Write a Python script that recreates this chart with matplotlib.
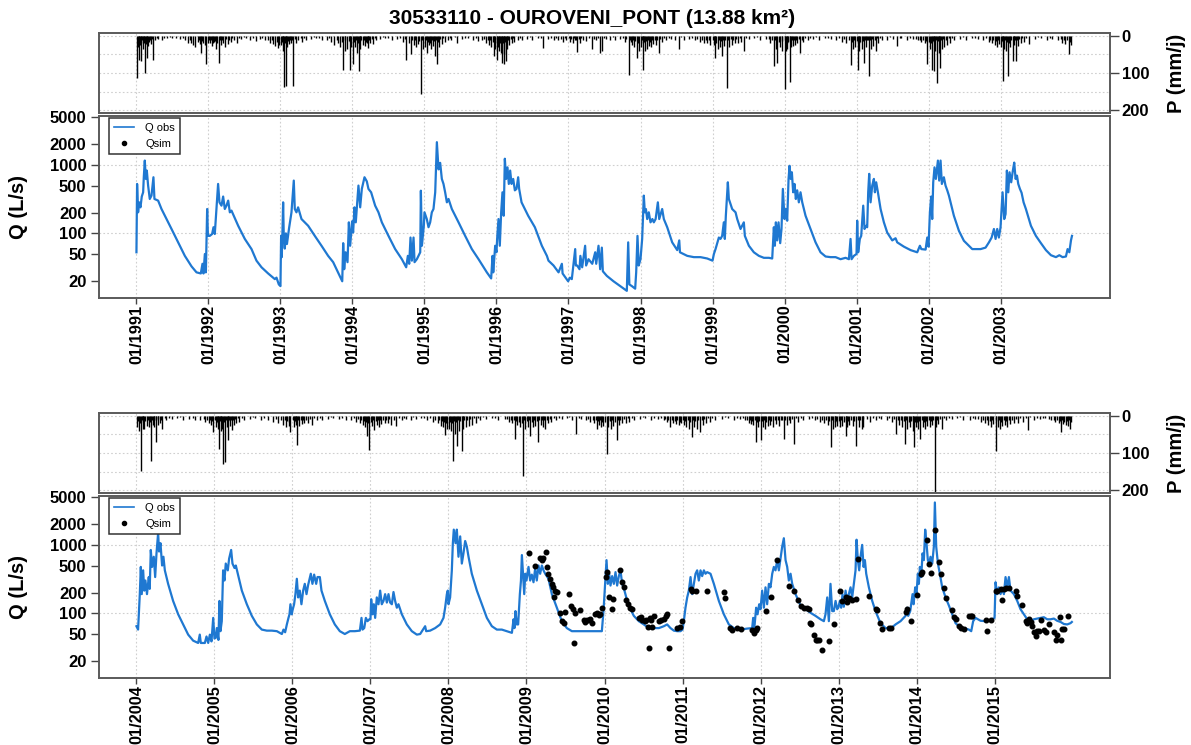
import matplotlib.pyplot as plt
from matplotlib.lines import Line2D
from matplotlib.ticker import NullLocator

plt.rcParams['font.family'] = ['Liberation Sans', 'DejaVu Sans']

titre = '30533110 - OUROVENI_PONT (13.88 km²)'
bleu = '#1f78d1'

# Débit observé 1991-2003 (temps en année décimale, Q en L/s)
q1_t = [
    1991.0, 1991.009, 1991.023, 1991.037, 1991.056, 1991.074, 1991.093, 1991.102, 1991.116, 1991.130, 1991.144, 1991.162, 1991.185, 1991.209, 1991.236, 1991.250, 1991.301, 1991.348, 1991.417, 1991.487, 1991.579, 1991.672, 1991.765, 1991.834, 1991.894, 1991.917, 1991.931, 1991.950, 1991.964, 1991.982, 1991.992,
    1992.0, 1992.019, 1992.051, 1992.070, 1992.088, 1992.134, 1992.153, 1992.181, 1992.204, 1992.227, 1992.250, 1992.274, 1992.297, 1992.320, 1992.413, 1992.505, 1992.598, 1992.667, 1992.737, 1992.829, 1992.922, 1992.945, 1992.977,
    1993.0, 1993.009, 1993.018, 1993.028, 1993.037, 1993.046, 1993.060, 1993.075, 1993.090, 1993.120, 1993.153, 1993.185, 1993.199, 1993.222, 1993.245, 1993.292, 1993.385, 1993.477, 1993.570, 1993.662, 1993.732, 1993.858, 1993.871, 1993.885, 1993.904, 1993.931, 1993.950, 1993.968, 1993.995,
    1994.009, 1994.028, 1994.046, 1994.083, 1994.107, 1994.130, 1994.167, 1994.199, 1994.222, 1994.259, 1994.315, 1994.361, 1994.408, 1994.500, 1994.593, 1994.686, 1994.746, 1994.769, 1994.788, 1994.806, 1994.825, 1994.848, 1994.862, 1994.894, 1994.941, 1994.950, 1994.964, 1994.991,
    1995.0, 1995.032, 1995.056, 1995.079, 1995.102, 1995.125, 1995.149, 1995.172, 1995.195, 1995.218, 1995.241, 1995.264, 1995.287, 1995.311, 1995.334, 1995.380, 1995.473, 1995.565, 1995.658, 1995.751, 1995.866, 1995.926, 1995.945, 1995.955, 1995.982,
    1996.0, 1996.009, 1996.028, 1996.046, 1996.065, 1996.083, 1996.100, 1996.116, 1996.134, 1996.153, 1996.171, 1996.190, 1996.209, 1996.232, 1996.255, 1996.278, 1996.301, 1996.315, 1996.348, 1996.440, 1996.533, 1996.630, 1996.700, 1996.722, 1996.792, 1996.862, 1996.908, 1996.918, 1996.995,
    1997.020, 1997.046, 1997.093, 1997.102, 1997.120, 1997.153, 1997.165, 1997.190, 1997.231, 1997.245, 1997.278, 1997.330, 1997.371, 1997.385, 1997.417, 1997.440, 1997.463, 1997.477, 1997.532, 1997.625, 1997.718, 1997.810, 1997.829, 1997.845, 1997.880, 1997.926, 1997.940, 1997.958, 1997.975,
    1998.0, 1998.023, 1998.037, 1998.046, 1998.060, 1998.075, 1998.093, 1998.115, 1998.139, 1998.165, 1998.185, 1998.210, 1998.241, 1998.260, 1998.301, 1998.324, 1998.371, 1998.440, 1998.510, 1998.538, 1998.548, 1998.649, 1998.741, 1998.834, 1998.927,
    1999.0, 1999.019, 1999.042, 1999.065, 1999.088, 1999.111, 1999.134, 1999.157, 1999.171, 1999.185, 1999.204, 1999.213, 1999.227, 1999.250, 1999.273, 1999.320, 1999.343, 1999.389, 1999.435, 1999.449, 1999.505, 1999.574, 1999.644, 1999.713, 1999.783, 1999.829, 1999.852, 1999.866, 1999.880, 1999.898, 1999.917, 1999.940, 1999.958, 1999.977,
    2000.0, 2000.019, 2000.037, 2000.056, 2000.070, 2000.086, 2000.102, 2000.120, 2000.139, 2000.157, 2000.176, 2000.199, 2000.222, 2000.246, 2000.292, 2000.361, 2000.431, 2000.500, 2000.570, 2000.639, 2000.709, 2000.778, 2000.848, 2000.894, 2000.917, 2000.931, 2000.963,
    2001.0, 2001.009, 2001.023, 2001.046, 2001.065, 2001.093, 2001.111, 2001.134, 2001.148, 2001.162, 2001.176, 2001.195, 2001.218, 2001.241, 2001.255, 2001.273, 2001.297, 2001.334, 2001.380, 2001.426, 2001.496, 2001.542, 2001.565, 2001.658, 2001.751, 2001.843, 2001.880, 2001.900, 2001.959, 2001.982,
    2002.0, 2002.019, 2002.037, 2002.051, 2002.065, 2002.083, 2002.102, 2002.130, 2002.148, 2002.167, 2002.185, 2002.213, 2002.236, 2002.260, 2002.283, 2002.306, 2002.352, 2002.422, 2002.491, 2002.561, 2002.607, 2002.653, 2002.723, 2002.792, 2002.839, 2002.876, 2002.908, 2002.931, 2002.954, 2002.977,
    2003.0, 2003.028, 2003.051, 2003.070, 2003.088, 2003.107, 2003.125, 2003.148, 2003.171, 2003.190, 2003.209, 2003.228, 2003.246, 2003.269, 2003.292, 2003.320, 2003.352, 2003.422, 2003.491, 2003.561, 2003.630, 2003.700, 2003.769, 2003.816, 2003.862, 2003.908, 2003.931, 2003.955, 2003.978, 2003.992,
]
q1_v = [
    53, 527, 203, 284, 240, 345, 398, 660, 1156, 624, 826, 499, 318, 356, 660, 318, 301, 227, 162, 116, 74, 47, 33, 27, 26, 36, 26, 50, 27, 227, 98,
    92, 92, 98, 123, 98, 527, 284, 254, 345, 227, 254, 301, 203, 215, 129, 83, 59, 40, 32, 26, 21.5, 22.6, 18,
    17, 92, 45, 110, 284, 90, 60, 100, 70, 120, 203, 590, 227, 203, 240, 162, 129, 92, 66, 47, 38, 20, 72, 30, 53, 38, 145, 66, 150,
    103, 240, 145, 499, 240, 446, 660, 575, 446, 398, 254, 203, 145, 92, 59, 42, 32, 47, 36, 87, 40, 87, 38, 42, 53, 420, 66, 129,
    203, 162, 123, 145, 203, 227, 398, 2146, 860, 1070, 624, 527, 398, 284, 318, 227, 145, 92, 59, 42, 27, 22, 47, 27, 66,
    53, 83, 162, 66, 203, 398, 181, 1230, 624, 920, 527, 826, 527, 624, 425, 446, 660, 446, 284, 181, 123, 66, 47, 40, 34, 27, 36, 26, 20,
    22.6, 21.5, 59, 34, 34, 30, 47, 32, 66, 34, 42, 36, 53, 36, 66, 30, 62, 28, 24, 20, 17, 14.5, 74, 18, 17, 15.6, 27, 92, 34,
    42, 83, 203, 356, 203, 227, 162, 203, 145, 162, 145, 162, 284, 162, 227, 162, 123, 74, 57, 79, 53, 47, 45, 45, 43,
    40, 50, 59, 72, 87, 83, 92, 145, 83, 181, 398, 557, 318, 268, 227, 203, 162, 116, 145, 92, 66, 53, 47, 44, 44, 43, 123, 66, 145, 79, 145, 72, 116, 446,
    162, 227, 153, 624, 970, 624, 780, 398, 527, 318, 425, 284, 398, 284, 181, 116, 74, 53, 46, 45, 45, 42, 44, 42, 83, 42, 47,
    50, 153, 53, 83, 92, 254, 116, 129, 123, 398, 740, 284, 499, 624, 398, 557, 398, 227, 145, 103, 79, 85, 74, 64, 57, 53, 66, 59, 58, 87,
    64, 203, 345, 162, 557, 920, 624, 1156, 590, 1156, 527, 660, 499, 425, 356, 284, 181, 109, 78, 66, 59, 59, 59, 62, 74, 87, 116, 83, 116, 87,
    123, 398, 162, 192, 826, 398, 780, 557, 826, 1080, 624, 698, 527, 446, 392, 284, 227, 129, 92, 72, 57, 48, 45, 48, 45, 46, 59, 53, 79, 92,
]

# Débit observé 2004-2015
q2_t = [
    2004.0, 2004.021, 2004.034, 2004.043, 2004.056, 2004.068, 2004.086, 2004.100, 2004.115, 2004.135, 2004.158, 2004.170, 2004.184, 2004.200, 2004.222, 2004.240, 2004.257, 2004.278, 2004.290, 2004.308, 2004.329, 2004.346, 2004.364, 2004.406, 2004.470, 2004.535, 2004.599, 2004.663, 2004.727, 2004.791, 2004.812, 2004.825, 2004.877, 2004.898, 2004.920, 2004.941, 2004.962, 2004.984,
    2005.0, 2005.017, 2005.030, 2005.051, 2005.064, 2005.077, 2005.094, 2005.111, 2005.128, 2005.145, 2005.171, 2005.188, 2005.214, 2005.231, 2005.257, 2005.274, 2005.299, 2005.351, 2005.415, 2005.479, 2005.543, 2005.607, 2005.671, 2005.736, 2005.800, 2005.864, 2005.885, 2005.906, 2005.928, 2005.949, 2005.962, 2005.974, 2005.991,
    2006.0, 2006.021, 2006.038, 2006.056, 2006.073, 2006.094, 2006.115, 2006.137, 2006.158, 2006.180, 2006.201, 2006.235, 2006.256, 2006.278, 2006.304, 2006.321, 2006.351, 2006.372, 2006.415, 2006.479, 2006.543, 2006.607, 2006.671, 2006.736, 2006.800, 2006.864, 2006.885, 2006.898, 2006.920, 2006.941, 2006.962, 2006.985,
    2007.0, 2007.009, 2007.026, 2007.043, 2007.060, 2007.081, 2007.103, 2007.124, 2007.145, 2007.167, 2007.188, 2007.210, 2007.231, 2007.252, 2007.274, 2007.295, 2007.316, 2007.338, 2007.359, 2007.402, 2007.466, 2007.530, 2007.594, 2007.637, 2007.701, 2007.714, 2007.765, 2007.829, 2007.893, 2007.936, 2007.957, 2007.979, 2007.991,
    2008.0, 2008.021, 2008.043, 2008.056, 2008.068, 2008.090, 2008.107, 2008.128, 2008.150, 2008.171, 2008.192, 2008.214, 2008.235, 2008.257, 2008.299, 2008.364, 2008.428, 2008.492, 2008.556, 2008.620, 2008.684, 2008.748, 2008.813, 2008.834, 2008.846, 2008.859, 2008.876, 2008.893, 2008.915, 2008.929, 2008.941, 2008.955, 2008.971, 2008.984,
    2009.0, 2009.026, 2009.047, 2009.068, 2009.090, 2009.111, 2009.132, 2009.154, 2009.175, 2009.197, 2009.218, 2009.240, 2009.282, 2009.325, 2009.389, 2009.453, 2009.517, 2009.582, 2009.646, 2009.710, 2009.774, 2009.838, 2009.902, 2009.966, 2009.987,
    2010.0, 2010.026, 2010.043, 2010.060, 2010.077, 2010.098, 2010.120, 2010.141, 2010.162, 2010.184, 2010.205, 2010.226, 2010.256, 2010.291, 2010.333, 2010.376, 2010.440, 2010.504, 2010.568, 2010.632, 2010.697, 2010.761, 2010.803, 2010.846, 2010.889, 2010.932, 2010.974,
    2011.0, 2011.017, 2011.038, 2011.060, 2011.081, 2011.103, 2011.124, 2011.145, 2011.167, 2011.188, 2011.209, 2011.231, 2011.252, 2011.274, 2011.295, 2011.316, 2011.359, 2011.402, 2011.466, 2011.530, 2011.594, 2011.658, 2011.744, 2011.829, 2011.893, 2011.906, 2011.919, 2011.944, 2011.962, 2011.983,
    2012.0, 2012.021, 2012.043, 2012.064, 2012.085, 2012.107, 2012.128, 2012.150, 2012.171, 2012.192, 2012.214, 2012.235, 2012.256, 2012.278, 2012.299, 2012.321, 2012.342, 2012.363, 2012.385, 2012.406, 2012.449, 2012.513, 2012.577, 2012.641, 2012.705, 2012.769, 2012.812, 2012.833, 2012.855, 2012.876, 2012.897, 2012.919, 2012.940, 2012.962, 2012.983,
    2013.0, 2013.017, 2013.034, 2013.051, 2013.068, 2013.090, 2013.111, 2013.132, 2013.154, 2013.175, 2013.197, 2013.218, 2013.231, 2013.248, 2013.265, 2013.282, 2013.303, 2013.321, 2013.338, 2013.355, 2013.389, 2013.432, 2013.474, 2013.538, 2013.603, 2013.667, 2013.731, 2013.795, 2013.859, 2013.880, 2013.893, 2013.919, 2013.949, 2013.962, 2013.983,
    2014.0, 2014.017, 2014.030, 2014.043, 2014.060, 2014.077, 2014.094, 2014.111, 2014.128, 2014.145, 2014.162, 2014.179, 2014.201, 2014.222, 2014.235, 2014.252, 2014.274, 2014.299, 2014.329, 2014.372, 2014.415, 2014.457, 2014.500, 2014.543, 2014.585, 2014.628, 2014.671, 2014.701, 2014.726, 2014.756, 2014.821, 2014.885, 2014.927, 2014.970,
    2015.0, 2015.013, 2015.034, 2015.056, 2015.077, 2015.098, 2015.120, 2015.141, 2015.162, 2015.184, 2015.205, 2015.248, 2015.291, 2015.333, 2015.376, 2015.419, 2015.462, 2015.504, 2015.547, 2015.590, 2015.632, 2015.675, 2015.718, 2015.761, 2015.803, 2015.846, 2015.889, 2015.932, 2015.974, 2015.991,
]
q2_v = [
    65, 58, 121, 191, 477, 191, 425, 215, 302, 191, 339, 228, 843, 477, 671, 339, 752, 1490, 800, 1060, 500, 671, 425, 270, 152, 97, 69, 49, 40, 37, 49, 37, 37, 46, 37, 49, 39, 86,
    43, 44, 61, 41, 152, 55, 77, 425, 302, 534, 425, 630, 843, 534, 460, 500, 379, 215, 136, 92, 69, 58, 56, 56, 55, 50, 58, 53, 69, 86, 97, 136, 97,
    110, 136, 191, 320, 171, 215, 136, 215, 270, 191, 260, 379, 270, 368, 270, 339, 339, 215, 152, 97, 69, 55, 50, 55, 55, 56, 86, 58, 61, 86, 77, 82,
    82, 161, 97, 136, 86, 171, 136, 215, 136, 152, 191, 144, 191, 144, 136, 205, 152, 121, 136, 97, 69, 55, 49, 50, 65, 55, 56, 61, 69, 86, 121, 191, 215,
    136, 171, 425, 1060, 1670, 1060, 1670, 671, 1330, 534, 752, 1140, 945, 671, 379, 215, 136, 86, 65, 58, 58, 55, 52, 82, 61, 108, 69, 69, 191, 300, 710, 379, 191, 379,
    302, 477, 302, 368, 285, 451, 302, 500, 379, 500, 425, 379, 320, 191, 121, 77, 61, 55, 55, 55, 55, 55, 55, 55, 108,
    191, 599, 270, 379, 255, 350, 270, 400, 255, 350, 425, 270, 215, 152, 115, 92, 77, 69, 61, 61, 61, 65, 69, 61, 56, 55, 55,
    58, 77, 121, 171, 215, 339, 191, 270, 379, 425, 302, 425, 350, 425, 379, 400, 379, 270, 152, 97, 69, 61, 58, 60, 61, 86, 58, 121, 97, 136,
    115, 215, 121, 240, 136, 270, 240, 379, 477, 425, 599, 425, 630, 945, 1250, 599, 477, 302, 379, 270, 191, 130, 115, 102, 92, 82, 77, 97, 171, 77, 270, 108, 108, 152, 115,
    125, 152, 121, 191, 125, 215, 152, 191, 240, 171, 270, 425, 1190, 599, 425, 671, 1000, 477, 599, 379, 240, 152, 108, 72, 61, 60, 69, 77, 92, 121, 92, 108, 191, 136, 240,
    191, 379, 270, 477, 339, 752, 599, 1670, 1060, 599, 534, 671, 534, 945, 4160, 945, 534, 379, 240, 171, 130, 97, 72, 65, 61, 60, 58, 55, 77, 86, 78, 77, 78, 82,
    86, 285, 191, 240, 191, 228, 191, 339, 240, 339, 215, 191, 152, 115, 97, 82, 78, 82, 84, 86, 88, 82, 82, 84, 78, 75, 70, 69, 72, 75,
]

# Débit simulé (points) 2009-2015
qsim_t = [
    2009.034, 2009.111, 2009.167, 2009.197, 2009.218, 2009.248, 2009.261, 2009.282, 2009.304, 2009.325, 2009.346, 2009.359, 2009.368, 2009.389, 2009.432, 2009.453, 2009.475, 2009.496, 2009.547, 2009.573, 2009.590, 2009.607, 2009.624, 2009.689, 2009.731, 2009.753, 2009.774, 2009.796, 2009.817, 2009.838, 2009.881, 2009.902, 2009.924, 2009.945, 2009.967,
    2010.013, 2010.034, 2010.056, 2010.098, 2010.111, 2010.205, 2010.226, 2010.248, 2010.282, 2010.299, 2010.325, 2010.355, 2010.440, 2010.462, 2010.483, 2010.513, 2010.538, 2010.556, 2010.568, 2010.581, 2010.598, 2010.611, 2010.632, 2010.697, 2010.718, 2010.761, 2010.782, 2010.803, 2010.825, 2010.932, 2010.974, 2010.996,
    2011.103, 2011.124, 2011.167, 2011.308, 2011.530, 2011.551, 2011.615, 2011.637, 2011.701, 2011.744, 2011.893, 2011.915, 2011.936, 2011.957,
    2012.064, 2012.128, 2012.205, 2012.363, 2012.427, 2012.479, 2012.513, 2012.556, 2012.598, 2012.620, 2012.633, 2012.650, 2012.684, 2012.705, 2012.726, 2012.748, 2012.791, 2012.880, 2012.940,
    2013.017, 2013.047, 2013.090, 2013.111, 2013.132, 2013.175, 2013.218, 2013.252, 2013.389, 2013.474, 2013.496, 2013.538, 2013.560, 2013.645, 2013.667, 2013.859, 2013.872, 2013.923,
    2014.009, 2014.051, 2014.073, 2014.137, 2014.158, 2014.179, 2014.235, 2014.286, 2014.316, 2014.350, 2014.372, 2014.457, 2014.479, 2014.500, 2014.543, 2014.564, 2014.607, 2014.671, 2014.701, 2014.714, 2014.885, 2014.906, 2014.949,
    2015.013, 2015.034, 2015.077, 2015.098, 2015.120, 2015.141, 2015.184, 2015.269, 2015.291, 2015.355, 2015.397, 2015.419, 2015.440, 2015.462, 2015.483, 2015.504, 2015.526, 2015.547, 2015.568, 2015.590, 2015.632, 2015.654, 2015.697, 2015.761, 2015.782, 2015.803, 2015.838, 2015.846, 2015.868, 2015.889, 2015.940,
]
qsim_v = [
    752, 487, 634, 599, 634, 796, 477, 379, 320, 270, 240, 175, 215, 203, 102, 77, 73, 106, 191, 128, 115, 37.5, 102, 111, 79, 75, 81, 79, 84, 73, 97, 100, 94, 97, 121,
    339, 400, 171, 115, 161, 435, 285, 240, 156, 139, 121, 115, 86, 88, 81, 77, 79, 63, 31, 86, 79, 63, 91, 77, 81, 84, 91, 97, 31, 61, 63, 77,
    228, 215, 210, 210, 203, 167, 61, 58, 61, 60, 58, 52, 58, 61,
    108, 171, 599, 249, 215, 156, 128, 121, 118, 115, 73, 71, 48, 41, 41, 41, 29, 40, 71,
    215, 152, 175, 149, 167, 156, 161, 619, 181, 115, 111, 73, 59, 61, 61, 106, 115, 77,
    187, 379, 400, 1186, 534, 392, 1670, 565, 370, 233, 167, 111, 88, 84, 65, 61, 59, 91, 91, 91, 79, 56, 79,
    210, 215, 228, 156, 230, 233, 233, 210, 181, 133, 77, 73, 84, 75, 65, 53, 46, 56, 55, 81, 58, 53, 69, 53, 41, 49, 88, 41, 59, 59, 91,
]

# Pluie journalière (mm/j) : épisodes marquants
p1_t = [
    1991.01, 1991.02, 1991.04, 1991.05, 1991.07, 1991.09, 1991.10, 1991.12, 1991.14, 1991.16, 1991.18, 1991.20, 1991.23, 1991.26, 1991.30, 1991.35, 1991.42, 1991.50, 1991.60, 1991.68, 1991.72, 1991.76, 1991.79, 1991.82, 1991.85, 1991.88, 1991.90, 1991.93, 1991.95, 1991.97, 1991.99,
    1992.02, 1992.05, 1992.08, 1992.11, 1992.14, 1992.17, 1992.20, 1992.23, 1992.27, 1992.31, 1992.35, 1992.40, 1992.45, 1992.52, 1992.58, 1992.66, 1992.72, 1992.78, 1992.85, 1992.90, 1992.93, 1992.96, 1992.98,
    1993.01, 1993.03, 1993.05, 1993.07, 1993.09, 1993.12, 1993.15, 1993.18, 1993.21, 1993.25, 1993.30, 1993.36, 1993.42, 1993.50, 1993.58, 1993.64, 1993.70, 1993.75, 1993.80, 1993.83, 1993.87, 1993.90, 1993.93, 1993.96, 1993.98,
    1994.01, 1994.03, 1994.06, 1994.09, 1994.11, 1994.14, 1994.17, 1994.20, 1994.22, 1994.25, 1994.29, 1994.33, 1994.38, 1994.45, 1994.55, 1994.62, 1994.70, 1994.75, 1994.78, 1994.81, 1994.85, 1994.88, 1994.91, 1994.95, 1994.98,
    1995.01, 1995.03, 1995.06, 1995.09, 1995.12, 1995.15, 1995.17, 1995.20, 1995.24, 1995.28, 1995.32, 1995.37, 1995.45, 1995.52, 1995.60, 1995.68, 1995.75, 1995.80, 1995.85, 1995.90, 1995.93, 1995.96, 1995.98,
    1996.005, 1996.02, 1996.04, 1996.06, 1996.08, 1996.10, 1996.11, 1996.13, 1996.15, 1996.18, 1996.21, 1996.25, 1996.30, 1996.36, 1996.42, 1996.50, 1996.58, 1996.65, 1996.72, 1996.80, 1996.86, 1996.92, 1996.97,
    1997.02, 1997.06, 1997.09, 1997.12, 1997.16, 1997.20, 1997.25, 1997.32, 1997.38, 1997.44, 1997.46, 1997.52, 1997.58, 1997.65, 1997.72, 1997.78, 1997.835, 1997.88, 1997.91, 1997.95, 1997.98,
    1998.01, 1998.04, 1998.06, 1998.09, 1998.12, 1998.15, 1998.18, 1998.22, 1998.25, 1998.30, 1998.35, 1998.42, 1998.48, 1998.53, 1998.60, 1998.68, 1998.75, 1998.82, 1998.88, 1998.93, 1998.97,
    1999.02, 1999.04, 1999.07, 1999.10, 1999.13, 1999.16, 1999.20, 1999.23, 1999.27, 1999.31, 1999.35, 1999.40, 1999.435, 1999.50, 1999.58, 1999.66, 1999.74, 1999.80, 1999.85, 1999.88, 1999.90, 1999.94, 1999.97,
    2000.005, 2000.02, 2000.04, 2000.07, 2000.09, 2000.12, 2000.15, 2000.18, 2000.22, 2000.26, 2000.32, 2000.40, 2000.48, 2000.56, 2000.64, 2000.72, 2000.80, 2000.86, 2000.92, 2000.95, 2000.98,
    2001.02, 2001.04, 2001.07, 2001.10, 2001.13, 2001.176, 2001.20, 2001.23, 2001.265, 2001.30, 2001.36, 2001.42, 2001.50, 2001.565, 2001.62, 2001.70, 2001.78, 2001.85, 2001.90, 2001.95, 2001.98,
    2002.02, 2002.05, 2002.07, 2002.09, 2002.12, 2002.14, 2002.16, 2002.19, 2002.22, 2002.26, 2002.30, 2002.36, 2002.44, 2002.52, 2002.60, 2002.68, 2002.76, 2002.84, 2002.88, 2002.92, 2002.95, 2002.98,
    2003.01, 2003.03, 2003.05, 2003.08, 2003.11, 2003.13, 2003.17, 2003.19, 2003.21, 2003.24, 2003.28, 2003.33, 2003.40, 2003.48, 2003.56, 2003.64, 2003.72, 2003.80, 2003.86, 2003.90, 2003.95, 2003.98,
]
p1_mm = [
    114, 30, 64, 25, 68, 35, 20, 100, 59, 28, 15, 22, 65, 12, 8, 10, 6, 5, 8, 12, 20, 18, 25, 30, 15, 22, 45, 18, 25, 77, 20,
    20, 28, 15, 35, 73, 25, 18, 30, 22, 15, 12, 20, 8, 6, 10, 14, 8, 12, 18, 22, 27, 32, 25,
    25, 40, 139, 136, 30, 22, 18, 134, 20, 12, 15, 10, 8, 6, 12, 10, 15, 25, 20, 30, 91, 40, 35, 91, 30,
    77, 30, 45, 94, 35, 25, 28, 20, 32, 18, 22, 12, 8, 6, 10, 8, 15, 64, 20, 50, 25, 30, 22, 157, 35,
    30, 45, 25, 35, 28, 55, 75, 30, 22, 15, 12, 10, 18, 8, 6, 12, 14, 10, 20, 25, 30, 55, 35,
    64, 30, 40, 45, 73, 50, 75, 68, 35, 25, 20, 15, 12, 10, 8, 12, 6, 32, 8, 10, 12, 15, 10,
    15, 20, 12, 43, 18, 10, 14, 36, 12, 45, 41, 8, 10, 12, 8, 15, 105, 25, 30, 59, 40,
    30, 91, 40, 35, 28, 30, 22, 25, 45, 15, 10, 8, 12, 36, 10, 8, 12, 15, 20, 18, 25,
    25, 59, 35, 30, 55, 28, 141, 30, 25, 20, 18, 15, 41, 8, 6, 10, 8, 18, 82, 35, 73, 30, 40,
    143, 40, 35, 123, 30, 28, 25, 20, 45, 15, 12, 8, 10, 6, 8, 12, 15, 20, 79, 35, 30,
    91, 40, 35, 73, 30, 107, 35, 28, 41, 20, 12, 10, 8, 27, 6, 10, 8, 12, 15, 20, 77,
    35, 91, 95, 40, 127, 45, 86, 35, 30, 25, 18, 12, 8, 10, 6, 8, 12, 15, 20, 25, 30, 22,
    30, 121, 35, 40, 109, 30, 68, 25, 68, 28, 20, 15, 23, 8, 6, 10, 8, 12, 18, 22, 50, 25,
]
# petites pluies 1991-2003
p1s_t = [
    1991.03, 1991.06, 1991.08, 1991.11, 1991.13, 1991.15, 1991.19, 1991.22, 1991.28, 1991.38, 1991.47, 1991.55, 1991.64, 1991.74, 1991.87, 1991.91,
    1992.01, 1992.04, 1992.065, 1992.095, 1992.125, 1992.16, 1992.19, 1992.25, 1992.29, 1992.33, 1992.43, 1992.49, 1992.62, 1992.75, 1992.82, 1992.88, 1992.95,
    1993.02, 1993.04, 1993.06, 1993.08, 1993.105, 1993.135, 1993.165, 1993.20, 1993.28, 1993.33, 1993.46, 1993.54, 1993.67, 1993.78, 1993.85, 1993.89, 1993.95, 1993.97,
    1994.02, 1994.045, 1994.075, 1994.10, 1994.125, 1994.155, 1994.185, 1994.21, 1994.235, 1994.27, 1994.31, 1994.42, 1994.50, 1994.66, 1994.73, 1994.83, 1994.87, 1994.93, 1994.96,
    1995.02, 1995.045, 1995.075, 1995.10, 1995.135, 1995.16, 1995.185, 1995.22, 1995.26, 1995.35, 1995.42, 1995.56, 1995.72, 1995.83, 1995.88, 1995.915, 1995.945, 1995.97,
    1996.01, 1996.03, 1996.05, 1996.07, 1996.09, 1996.12, 1996.14, 1996.165, 1996.195, 1996.23, 1996.33, 1996.46, 1996.62, 1996.76, 1996.83, 1996.89, 1996.95,
    1997.01, 1997.04, 1997.075, 1997.105, 1997.14, 1997.18, 1997.29, 1997.35, 1997.41, 1997.49, 1997.62, 1997.75, 1997.80, 1997.85, 1997.865, 1997.895, 1997.93, 1997.965,
    1998.02, 1998.03, 1998.05, 1998.075, 1998.105, 1998.135, 1998.165, 1998.20, 1998.235, 1998.27, 1998.33, 1998.40, 1998.56, 1998.72, 1998.78, 1998.85, 1998.91, 1998.95,
    1999.01, 1999.03, 1999.055, 1999.085, 1999.115, 1999.145, 1999.18, 1999.215, 1999.25, 1999.29, 1999.33, 1999.38, 1999.46, 1999.62, 1999.78, 1999.83, 1999.865, 1999.92, 1999.96,
    2000.01, 2000.03, 2000.055, 2000.08, 2000.105, 2000.135, 2000.165, 2000.20, 2000.24, 2000.29, 2000.36, 2000.44, 2000.60, 2000.76, 2000.83, 2000.89, 2000.935, 2000.965,
    2001.01, 2001.03, 2001.055, 2001.085, 2001.115, 2001.145, 2001.16, 2001.19, 2001.215, 2001.25, 2001.28, 2001.33, 2001.46, 2001.60, 2001.74, 2001.82, 2001.88, 2001.925, 2001.965,
    2002.01, 2002.035, 2002.06, 2002.08, 2002.105, 2002.13, 2002.15, 2002.175, 2002.205, 2002.24, 2002.28, 2002.33, 2002.48, 2002.64, 2002.80, 2002.86, 2002.90, 2002.935, 2002.965,
    2003.02, 2003.04, 2003.065, 2003.095, 2003.12, 2003.15, 2003.18, 2003.20, 2003.225, 2003.26, 2003.30, 2003.36, 2003.52, 2003.68, 2003.84, 2003.88, 2003.925, 2003.965,
]
p1s_mm = [
    12, 18, 10, 15, 22, 12, 10, 8, 6, 5, 4, 6, 5, 10, 12, 14,
    10, 12, 18, 14, 20, 10, 12, 8, 10, 6, 5, 4, 6, 5, 10, 12, 15,
    15, 18, 20, 12, 14, 10, 12, 8, 6, 5, 4, 6, 5, 12, 15, 10, 14, 16,
    15, 12, 18, 14, 10, 12, 15, 10, 12, 8, 6, 4, 5, 6, 8, 12, 10, 14, 12,
    12, 15, 18, 10, 14, 12, 15, 8, 6, 5, 4, 5, 6, 8, 12, 10, 15, 12,
    15, 12, 18, 14, 20, 16, 12, 10, 8, 6, 5, 4, 5, 6, 5, 8, 6,
    6, 8, 6, 10, 8, 6, 5, 8, 6, 5, 4, 6, 8, 12, 15, 12, 14, 18,
    12, 18, 15, 14, 12, 15, 10, 12, 10, 8, 6, 5, 4, 6, 8, 10, 12, 10,
    12, 15, 18, 12, 14, 10, 12, 10, 8, 10, 8, 6, 5, 4, 8, 10, 12, 15, 14,
    12, 18, 15, 14, 12, 10, 12, 8, 10, 6, 5, 4, 5, 6, 8, 12, 15, 12,
    14, 18, 15, 14, 12, 10, 12, 10, 8, 10, 6, 5, 4, 5, 6, 8, 10, 12, 14,
    15, 18, 14, 16, 12, 14, 12, 10, 8, 10, 6, 5, 4, 5, 6, 10, 12, 14, 12,
    14, 16, 12, 15, 18, 12, 10, 12, 10, 8, 6, 5, 4, 5, 8, 10, 12, 15,
]
p2_t = [
    2004.01, 2004.03, 2004.056, 2004.08, 2004.10, 2004.13, 2004.16, 2004.184, 2004.21, 2004.23, 2004.257, 2004.28, 2004.30, 2004.33, 2004.38, 2004.45, 2004.52, 2004.60, 2004.68, 2004.75, 2004.82, 2004.88, 2004.93, 2004.96, 2004.984,
    2005.02, 2005.04, 2005.06, 2005.08, 2005.10, 2005.115, 2005.137, 2005.16, 2005.18, 2005.20, 2005.22, 2005.25, 2005.28, 2005.32, 2005.38, 2005.45, 2005.52, 2005.60, 2005.68, 2005.75, 2005.82, 2005.88, 2005.92, 2005.95, 2005.97,
    2006.02, 2006.04, 2006.06, 2006.09, 2006.12, 2006.15, 2006.20, 2006.25, 2006.32, 2006.38, 2006.45, 2006.52, 2006.60, 2006.68, 2006.75, 2006.82, 2006.86, 2006.90, 2006.93, 2006.95, 2006.98,
    2007.02, 2007.05, 2007.08, 2007.11, 2007.14, 2007.18, 2007.22, 2007.26, 2007.33, 2007.40, 2007.46, 2007.52, 2007.58, 2007.65, 2007.72, 2007.80, 2007.86, 2007.90, 2007.93, 2007.96, 2007.98,
    2008.01, 2008.03, 2008.064, 2008.08, 2008.11, 2008.13, 2008.17, 2008.19, 2008.22, 2008.26, 2008.30, 2008.35, 2008.40, 2008.48, 2008.56, 2008.64, 2008.72, 2008.78, 2008.82, 2008.855, 2008.88, 2008.92, 2008.96, 2008.98,
    2009.02, 2009.05, 2009.08, 2009.11, 2009.15, 2009.18, 2009.21, 2009.24, 2009.28, 2009.32, 2009.38, 2009.45, 2009.52, 2009.58, 2009.64, 2009.70, 2009.76, 2009.82, 2009.87, 2009.90, 2009.93, 2009.96, 2009.98,
    2010.026, 2010.05, 2010.08, 2010.11, 2010.154, 2010.18, 2010.22, 2010.27, 2010.32, 2010.38, 2010.45, 2010.52, 2010.60, 2010.68, 2010.76, 2010.80, 2010.846, 2010.88, 2010.92, 2010.95, 2010.98,
    2011.02, 2011.05, 2011.08, 2011.12, 2011.15, 2011.18, 2011.23, 2011.26, 2011.30, 2011.35, 2011.42, 2011.50, 2011.58, 2011.66, 2011.74, 2011.80, 2011.85, 2011.88, 2011.91, 2011.94, 2011.97,
    2012.005, 2012.03, 2012.06, 2012.09, 2012.12, 2012.16, 2012.20, 2012.24, 2012.30, 2012.34, 2012.38, 2012.43, 2012.48, 2012.55, 2012.62, 2012.70, 2012.76, 2012.82, 2012.86, 2012.906, 2012.93, 2012.96, 2012.98,
    2013.02, 2013.05, 2013.09, 2013.11, 2013.14, 2013.18, 2013.23, 2013.26, 2013.30, 2013.32, 2013.40, 2013.48, 2013.55, 2013.62, 2013.68, 2013.74, 2013.78, 2013.82, 2013.85, 2013.88, 2013.92, 2013.95, 2013.97, 2013.99,
    2014.02, 2014.05, 2014.08, 2014.11, 2014.14, 2014.17, 2014.20, 2014.235, 2014.25, 2014.28, 2014.33, 2014.38, 2014.45, 2014.52, 2014.60, 2014.68, 2014.75, 2014.82, 2014.88, 2014.92, 2014.96, 2014.98,
    2015.013, 2015.04, 2015.07, 2015.10, 2015.13, 2015.16, 2015.20, 2015.25, 2015.30, 2015.36, 2015.43, 2015.50, 2015.58, 2015.65, 2015.72, 2015.78, 2015.82, 2015.85, 2015.88, 2015.91, 2015.94, 2015.97,
]
p2_mm = [
    30, 40, 148, 35, 35, 28, 30, 121, 25, 30, 71, 25, 20, 35, 12, 8, 6, 10, 8, 12, 10, 15, 20, 25, 44,
    30, 35, 89, 40, 35, 130, 125, 30, 66, 28, 39, 25, 20, 15, 10, 8, 6, 10, 12, 15, 20, 25, 30, 28, 44,
    30, 25, 78, 28, 22, 20, 18, 25, 12, 10, 8, 6, 8, 10, 12, 15, 20, 25, 30, 53, 91,
    28, 39, 25, 30, 22, 20, 18, 25, 28, 12, 8, 10, 8, 6, 12, 15, 20, 28, 30, 51, 35,
    35, 40, 121, 50, 80, 40, 94, 35, 30, 28, 25, 18, 12, 8, 6, 10, 8, 15, 20, 62, 25, 30, 162, 35,
    30, 53, 30, 28, 71, 25, 30, 35, 20, 15, 12, 8, 6, 10, 48, 8, 12, 15, 20, 35, 25, 30, 28,
    103, 30, 35, 28, 66, 25, 20, 18, 15, 12, 8, 6, 10, 8, 12, 15, 30, 20, 22, 25, 18,
    25, 30, 35, 57, 30, 35, 44, 25, 20, 15, 10, 8, 6, 10, 8, 12, 18, 22, 25, 71, 30,
    66, 30, 35, 28, 25, 30, 22, 28, 62, 25, 20, 75, 15, 10, 8, 12, 15, 20, 25, 85, 35, 30, 28,
    30, 28, 53, 30, 25, 28, 80, 30, 35, 30, 15, 10, 8, 12, 15, 48, 25, 30, 75, 35, 30, 40, 85, 30,
    35, 62, 30, 35, 28, 30, 25, 205, 30, 22, 35, 12, 8, 6, 10, 12, 8, 15, 20, 25, 30, 22,
    94, 30, 35, 28, 25, 30, 22, 18, 20, 15, 39, 10, 8, 6, 10, 15, 20, 44, 22, 25, 28, 35,
]
# petites pluies 2004-2015
p2s_t = [
    2004.02, 2004.04, 2004.07, 2004.09, 2004.115, 2004.145, 2004.17, 2004.195, 2004.22, 2004.245, 2004.27, 2004.315, 2004.36, 2004.42, 2004.56, 2004.72, 2004.86, 2004.91, 2004.945, 2004.97,
    2005.01, 2005.03, 2005.05, 2005.07, 2005.09, 2005.125, 2005.15, 2005.17, 2005.19, 2005.21, 2005.235, 2005.265, 2005.30, 2005.35, 2005.49, 2005.64, 2005.79, 2005.85, 2005.90, 2005.935, 2005.96,
    2006.01, 2006.03, 2006.05, 2006.075, 2006.105, 2006.135, 2006.175, 2006.225, 2006.28, 2006.35, 2006.49, 2006.64, 2006.79, 2006.84, 2006.88, 2006.915, 2006.94, 2006.965,
    2007.01, 2007.035, 2007.065, 2007.095, 2007.125, 2007.16, 2007.20, 2007.24, 2007.30, 2007.365, 2007.43, 2007.55, 2007.68, 2007.76, 2007.83, 2007.88, 2007.915, 2007.945, 2007.97,
    2008.02, 2008.045, 2008.07, 2008.095, 2008.12, 2008.15, 2008.18, 2008.205, 2008.24, 2008.28, 2008.325, 2008.375, 2008.44, 2008.60, 2008.75, 2008.80, 2008.84, 2008.87, 2008.90, 2008.94, 2008.97,
    2009.01, 2009.035, 2009.065, 2009.095, 2009.13, 2009.165, 2009.195, 2009.225, 2009.26, 2009.30, 2009.35, 2009.42, 2009.55, 2009.67, 2009.79, 2009.85, 2009.885, 2009.915, 2009.945, 2009.97,
    2010.01, 2010.04, 2010.065, 2010.095, 2010.13, 2010.17, 2010.20, 2010.245, 2010.295, 2010.35, 2010.49, 2010.64, 2010.72, 2010.78, 2010.82, 2010.865, 2010.90, 2010.935, 2010.965,
    2011.01, 2011.035, 2011.065, 2011.10, 2011.135, 2011.165, 2011.20, 2011.245, 2011.28, 2011.325, 2011.38, 2011.54, 2011.70, 2011.78, 2011.825, 2011.865, 2011.895, 2011.925, 2011.955, 2011.985,
    2012.02, 2012.045, 2012.075, 2012.105, 2012.14, 2012.18, 2012.22, 2012.26, 2012.28, 2012.32, 2012.36, 2012.405, 2012.455, 2012.52, 2012.66, 2012.73, 2012.79, 2012.84, 2012.88, 2012.92, 2012.95, 2012.97,
    2013.01, 2013.035, 2013.07, 2013.10, 2013.125, 2013.16, 2013.20, 2013.245, 2013.28, 2013.31, 2013.36, 2013.44, 2013.52, 2013.65, 2013.71, 2013.76, 2013.80, 2013.835, 2013.865, 2013.90, 2013.935, 2013.96, 2013.98,
    2014.01, 2014.035, 2014.065, 2014.095, 2014.125, 2014.155, 2014.185, 2014.215, 2014.265, 2014.30, 2014.355, 2014.42, 2014.56, 2014.72, 2014.79, 2014.85, 2014.90, 2014.94, 2014.97,
    2015.025, 2015.055, 2015.085, 2015.115, 2015.145, 2015.18, 2015.225, 2015.275, 2015.33, 2015.40, 2015.46, 2015.54, 2015.62, 2015.70, 2015.76, 2015.80, 2015.835, 2015.865, 2015.895, 2015.925, 2015.955, 2015.985,
]
p2s_mm = [
    14, 18, 12, 15, 14, 12, 15, 12, 10, 12, 8, 10, 6, 5, 4, 5, 8, 10, 12, 14,
    12, 15, 18, 14, 12, 15, 12, 14, 10, 12, 10, 8, 6, 5, 4, 5, 8, 10, 12, 14, 15,
    12, 14, 16, 12, 10, 12, 10, 8, 6, 5, 4, 5, 6, 8, 12, 14, 15, 18,
    15, 12, 14, 12, 10, 12, 10, 8, 10, 6, 5, 4, 5, 6, 10, 12, 14, 15, 18,
    15, 18, 14, 16, 12, 14, 12, 10, 12, 8, 6, 5, 4, 5, 8, 10, 12, 14, 15, 18, 12,
    14, 12, 15, 12, 14, 12, 10, 12, 10, 8, 6, 5, 4, 5, 8, 10, 12, 14, 12, 15,
    15, 12, 14, 12, 15, 12, 10, 8, 6, 5, 4, 5, 6, 8, 10, 12, 14, 12, 15,
    12, 14, 12, 15, 12, 14, 10, 12, 8, 6, 5, 4, 5, 6, 10, 12, 14, 12, 15, 14,
    14, 12, 15, 12, 14, 12, 10, 12, 10, 12, 10, 8, 6, 5, 6, 8, 10, 12, 14, 12, 15, 14,
    14, 12, 15, 12, 14, 12, 14, 12, 10, 8, 8, 6, 5, 6, 8, 10, 12, 14, 12, 15, 14, 12, 15,
    15, 14, 12, 15, 14, 12, 14, 12, 10, 8, 6, 5, 4, 6, 8, 10, 12, 14, 12,
    14, 12, 15, 12, 14, 12, 10, 8, 6, 5, 4, 5, 6, 8, 10, 12, 14, 12, 15, 14, 12, 15,
]

q_ticks = [20, 50, 100, 200, 500, 1000, 2000, 5000]

fig = plt.figure(figsize=(11.91, 7.45), dpi=100)


def cadre(top, h):
    # position en pixels depuis le haut de l'image
    return [99 / 1191, 1 - (top + h) / 745, 1011 / 1191, h / 745]


def bordure(ax):
    for s in ax.spines.values():
        s.set_color('#5a5a5a')
        s.set_linewidth(1.4)


def grille(ax, annees, niveaux):
    for a in annees:
        ax.axvline(a, color='#cfcfcf', lw=0.8, ls=(0, (1.5, 2)), zorder=0)
    for y in niveaux:
        ax.axhline(y, color='#cfcfcf', lw=0.8, ls=(0, (1.5, 2)), zorder=0)


def trace(axP, axQ, an0, an1, qt, qv, pt, pmm, st=None, sv=None):
    annees = list(range(an0, an1 + 1))
    pad = 0.04 * (an1 + 1 - an0)
    xl = (an0 - pad, an1 + 1 + pad)

    # pluie (axe inversé à droite)
    axP.vlines(pt, 0, pmm, color='black', lw=1.0, zorder=2)
    axP.set_xlim(xl)
    axP.set_ylim(208, -8)
    grille(axP, annees, range(0, 201, 50))
    axP.set_xticks([])
    axP.yaxis.tick_right()
    axP.set_yticks([0, 100, 200])
    axP.tick_params(axis='y', direction='out', length=6.5, width=1, pad=2,
                    labelsize=12, color='#444444')
    for lab in axP.get_yticklabels():
        lab.set_fontweight('bold')
    bordure(axP)

    # débits
    axQ.set_yscale('log')
    axQ.plot(qt, qv, color=bleu, lw=1.6, zorder=3)
    if st is not None:
        axQ.plot(st, sv, 'o', color='black', ms=3.3, zorder=4)
    axQ.set_xlim(xl)
    axQ.set_ylim(11.4, 5170)
    axQ.set_yticks(q_ticks, labels=[str(v) for v in q_ticks])
    axQ.yaxis.set_minor_locator(NullLocator())
    axQ.set_xticks(annees, labels=['01/%d' % a for a in annees])
    axQ.tick_params(axis='y', direction='out', length=6, width=1, pad=3,
                    labelsize=12, color='#444444')
    axQ.tick_params(axis='x', direction='out', length=4, width=1, pad=0.8,
                    labelsize=11.8, labelrotation=90, color='#444444')
    for lab in axQ.get_xticklabels() + axQ.get_yticklabels():
        lab.set_fontweight('bold')
    grille(axQ, annees, (100, 1000))
    bordure(axQ)

    poignees = [Line2D([], [], color=bleu, lw=1.2),
                Line2D([], [], ls='none', marker='o', color='black', ms=3)]
    lg = axQ.legend(poignees, ['Q obs', 'Qsim'], loc='upper left',
                    bbox_to_anchor=(10 / 1011, 1 - 2 / 182), borderaxespad=0,
                    fontsize=8, fancybox=False, framealpha=1,
                    edgecolor='#333333', handlelength=1.8, borderpad=0.45,
                    labelspacing=0.5, handletextpad=1.0)
    lg.get_frame().set_linewidth(1.1)


axP1 = fig.add_axes(cadre(33, 80))
axQ1 = fig.add_axes(cadre(116, 182))
axP2 = fig.add_axes(cadre(413, 80))
axQ2 = fig.add_axes(cadre(496, 182))

trace(axP1, axQ1, 1991, 2003, q1_t, q1_v, p1_t + p1s_t, p1_mm + p1s_mm)
trace(axP2, axQ2, 2004, 2015, q2_t, q2_v, p2_t + p2s_t, p2_mm + p2s_mm,
      qsim_t, qsim_v)

fig.text(592 / 1191, 1 - 18 / 745, titre, ha='center', va='center',
         fontsize=15, fontweight='bold')
for yc in (73, 453):
    fig.text(1176 / 1191, 1 - yc / 745, 'P (mm/j)', rotation=90, ha='center',
             va='center', fontsize=14.5, fontweight='bold')
for yc in (207, 587):
    fig.text(19 / 1191, 1 - yc / 745, 'Q (L/s)', rotation=90, ha='center',
             va='center', fontsize=14.5, fontweight='bold')

fig.savefig('out.png', dpi=100)
